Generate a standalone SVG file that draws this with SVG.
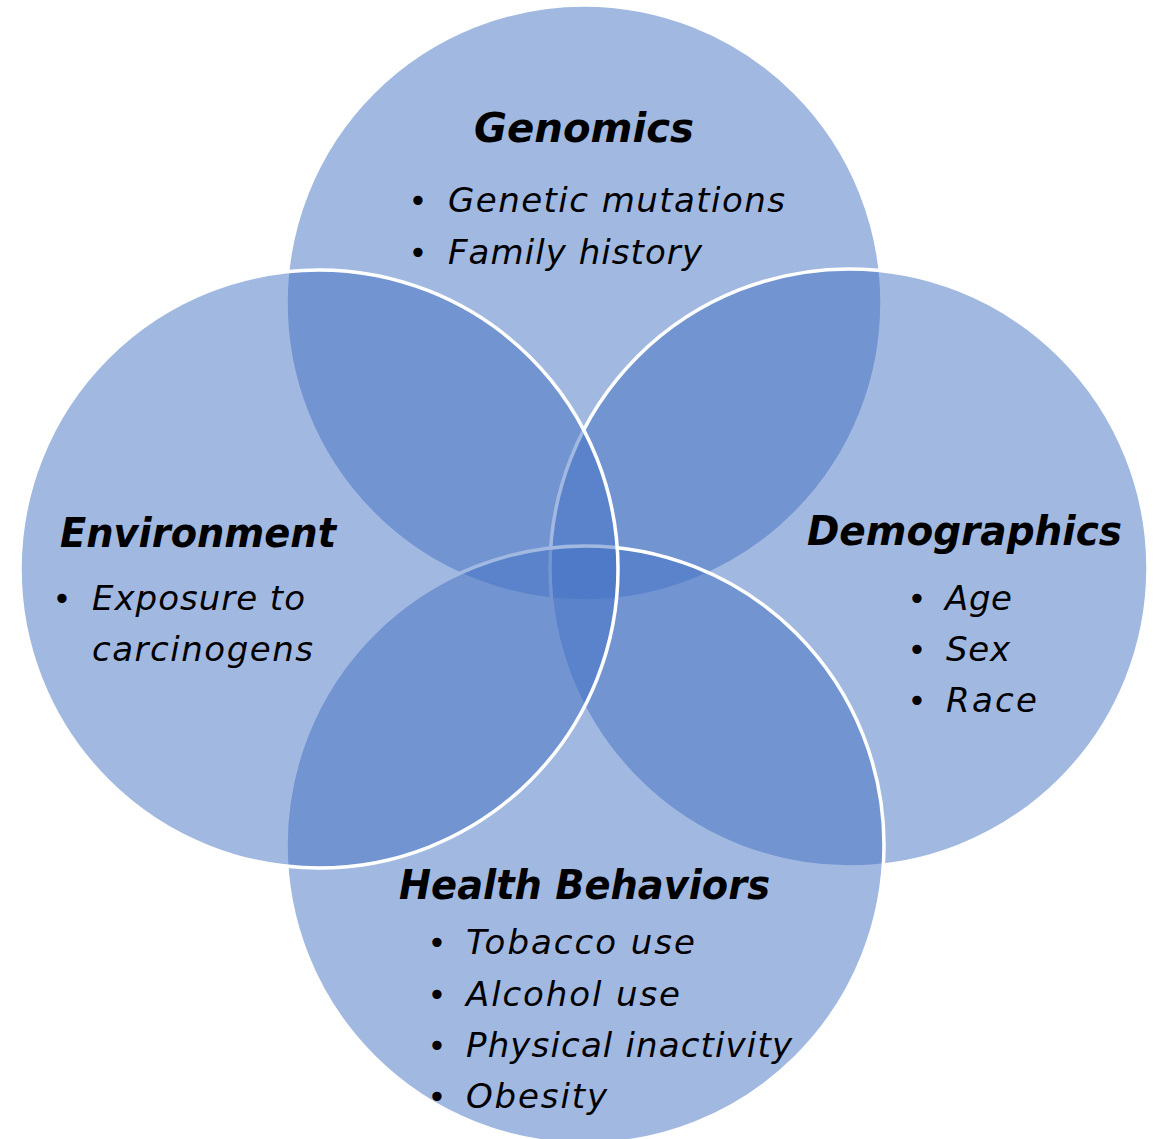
<svg xmlns="http://www.w3.org/2000/svg" width="1161" height="1139" viewBox="0 0 1161 1139">
<style>
.c{fill:#4472C4;fill-opacity:0.5;stroke:#FFFFFF;stroke-width:3.5}
.t{font-family:"DejaVu Sans","Liberation Sans",sans-serif;font-weight:bold;font-style:italic;font-size:40px;fill:#000}
.b{font-family:"DejaVu Sans","Liberation Sans",sans-serif;font-style:italic;font-size:34px;fill:#000}
.d{font-family:"DejaVu Sans","Liberation Sans",sans-serif;font-size:32px;fill:#000;text-anchor:middle}
</style>
<rect width="1161" height="1139" fill="#FFFFFF"/>
<g id="genomics">
<circle class="c" cx="584" cy="303" r="298"/>
<text class="t" x="474" y="142" textLength="220" lengthAdjust="spacingAndGlyphs">Genomics</text>
<text class="d" x="418" y="212">•</text>
<text class="b" x="448" y="212" textLength="337" lengthAdjust="spacing">Genetic mutations</text>
<text class="d" x="418" y="264">•</text>
<text class="b" x="448" y="264" textLength="254" lengthAdjust="spacing">Family history</text>
</g>
<g id="demographics">
<circle class="c" cx="849" cy="568" r="299"/>
<text class="t" x="807" y="545" textLength="315" lengthAdjust="spacingAndGlyphs">Demographics</text>
<text class="d" x="917" y="610">•</text>
<text class="b" x="945" y="610" textLength="67" lengthAdjust="spacing">Age</text>
<text class="d" x="917" y="661">•</text>
<text class="b" x="946" y="661" textLength="64" lengthAdjust="spacing">Sex</text>
<text class="d" x="917" y="712">•</text>
<text class="b" x="946" y="712" textLength="91" lengthAdjust="spacing">Race</text>
</g>
<g id="health-behaviors">
<circle class="c" cx="585" cy="845" r="299"/>
<text class="t" x="399" y="899" textLength="371" lengthAdjust="spacingAndGlyphs">Health Behaviors</text>
<text class="d" x="437" y="954">•</text>
<text class="b" x="466" y="954" textLength="229" lengthAdjust="spacing">Tobacco use</text>
<text class="d" x="437" y="1006">•</text>
<text class="b" x="466" y="1006" textLength="214" lengthAdjust="spacing">Alcohol use</text>
<text class="d" x="437" y="1057">•</text>
<text class="b" x="466" y="1057" textLength="326" lengthAdjust="spacing">Physical inactivity</text>
<text class="d" x="437" y="1108">•</text>
<text class="b" x="466" y="1108" textLength="141" lengthAdjust="spacing">Obesity</text>
</g>
<g id="environment">
<circle class="c" cx="319" cy="569" r="299"/>
<text class="t" x="60" y="547" textLength="276" lengthAdjust="spacingAndGlyphs">Environment</text>
<text class="d" x="62" y="610">•</text>
<text class="b" x="92" y="610" textLength="213" lengthAdjust="spacing">Exposure to</text>
<text class="b" x="92" y="661" textLength="221" lengthAdjust="spacing">carcinogens</text>
</g>
</svg>
